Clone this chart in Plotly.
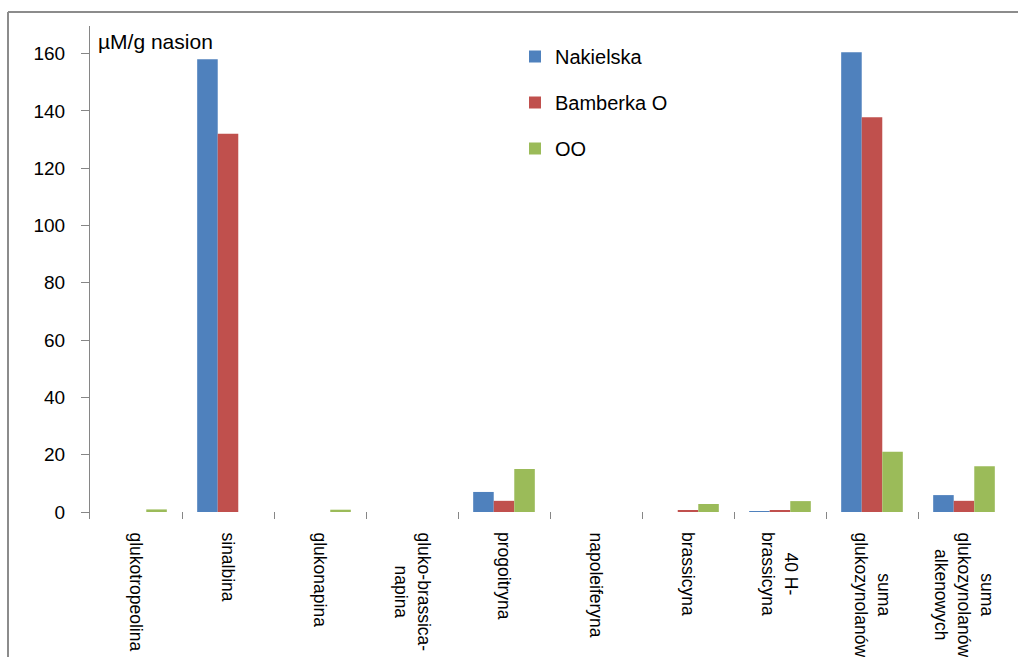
import plotly.graph_objects as go

# Glucosinolate content in seeds of three cultivars (µM/g)
categories = [
    "glukotropeolina",
    "sinalbina",
    "glukonapina",
    "gluko-brassica-<br>napina",
    "progoitryna",
    "napoleiferyna",
    "brassicyna",
    "40 H-<br>brassicyna",
    "suma<br>glukozynolanów",
    "suma<br>glukozynolanów<br>alkenowych",
]
nakielska = [0, 158, 0, 0, 7, 0, 0, 0.3, 160.5, 5.9]
bamberka_o = [0, 132, 0, 0, 3.9, 0, 0.7, 0.4, 137.8, 3.9]
oo = [0.9, 0, 0.8, 0, 15, 0, 2.8, 3.8, 21, 16]

series = [
    ("Nakielska", nakielska, "#4F81BD"),
    ("Bamberka O", bamberka_o, "#C0504D"),
    ("OO", oo, "#9BBB59"),
]

FONT = "Liberation Sans, Arial, sans-serif"
W, H = 1018, 657
ML, MR, MT, MB = 90, 8, 26, 138
PW, PH = W - ML - MR, H - MT - MB

fig = go.Figure()
for i, (name, vals, color) in enumerate(series):
    fig.add_trace(go.Bar(
        x=categories, y=vals, name=name,
        marker=dict(color=color, line=dict(width=0)),
        legendgroup=f"g{i}",
    ))


def px_x(px):
    return (px - ML) / PW


def px_y(py):
    return (H - MB - py) / PH


# rotated category labels, centred line by line
for cat in categories:
    fig.add_annotation(
        x=cat, xref="x", y=px_y(530), yref="paper",
        text=cat, textangle=90, showarrow=False,
        xanchor="center", yanchor="top", align="center",
        font=dict(family=FONT, size=17.5, color="black"),
    )

# unit label in the top-left corner of the plot
fig.add_annotation(
    x=px_x(96), xref="paper", y=px_y(41), yref="paper",
    text="µM/g nasion", showarrow=False, xanchor="left", yanchor="middle",
    font=dict(family=FONT, size=21, color="black"),
)

# chart frame (top and left edges)
frame = dict(color="#8C8C8C", width=2)
fig.add_shape(type="line", xref="paper", yref="paper",
              x0=px_x(8), x1=px_x(W + 20), y0=px_y(12), y1=px_y(12), line=frame)
fig.add_shape(type="line", xref="paper", yref="paper",
              x0=px_x(8), x1=px_x(8), y0=px_y(12), y1=px_y(H + 20), line=frame)

scale = 458.4 / 160  # pixels per unit
y_top = (512 - MT) / scale
y_bot = -(H - MB - 512) / scale

fig.update_layout(
    width=W, height=H,
    margin=dict(l=ML, r=MR, t=MT, b=MB, pad=0),
    paper_bgcolor="white", plot_bgcolor="white",
    barmode="group", bargap=0.33, bargroupgap=0,
    font=dict(family=FONT, size=18, color="black"),
    showlegend=True,
    legend=dict(
        x=px_x(515), y=px_y(37), xanchor="left", yanchor="top",
        font=dict(family=FONT, size=20, color="black"),
        traceorder="grouped", tracegroupgap=17,
        bgcolor="rgba(0,0,0,0)", itemclick=False,
    ),
    xaxis=dict(
        type="category",
        showticklabels=False, tickson="boundaries",
        ticks="inside", ticklen=7, tickcolor="#868686", tickwidth=1,
        showline=False, showgrid=False, zeroline=False, fixedrange=True,
    ),
    yaxis=dict(
        range=[y_bot, y_top], tick0=0, dtick=20,
        ticks="outside", ticklen=8, tickcolor="#868686", tickwidth=1,
        showline=True, linecolor="#868686", linewidth=1,
        showgrid=False, zeroline=False, ticklabelstandoff=12,
        tickfont=dict(family=FONT, size=19, color="black"),
        fixedrange=True,
    ),
)

fig.write_html("out.html", config={"displayModeBar": False})
